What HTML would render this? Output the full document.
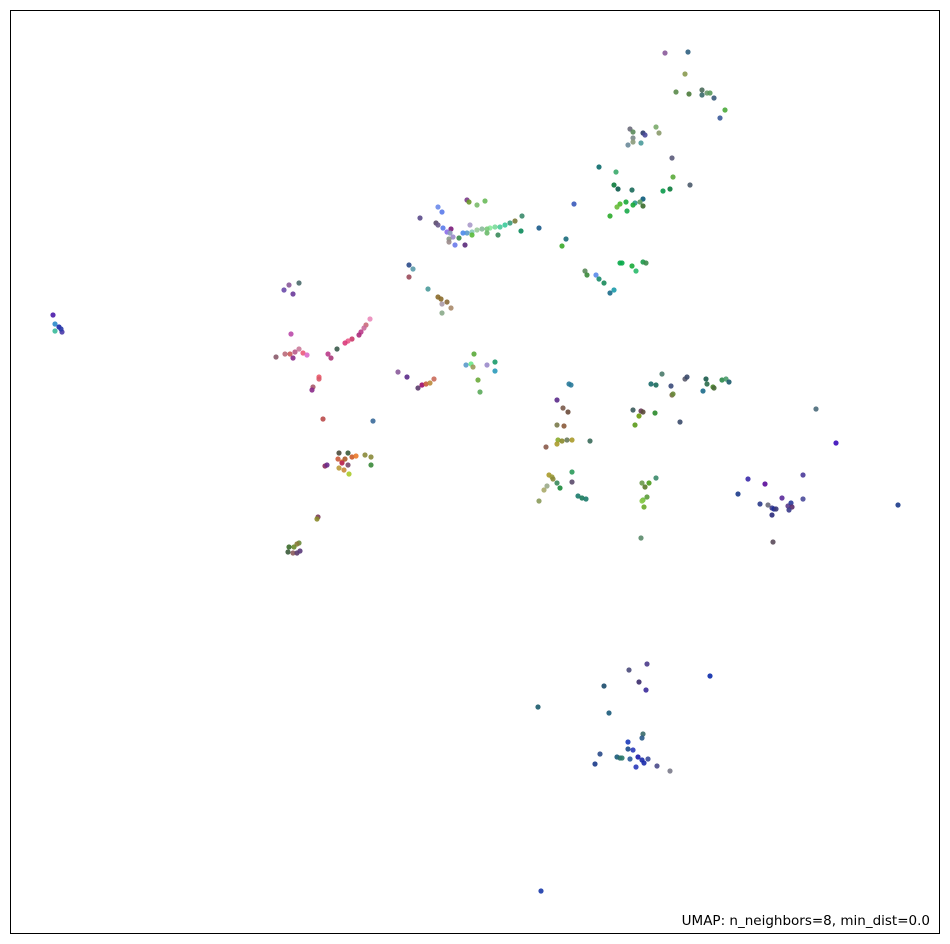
<!DOCTYPE html>
<html><head><meta charset="utf-8"><style>
html,body{margin:0;padding:0;background:#fff;}
svg{display:block;}
</style></head><body>
<svg id="chart" width="950" height="944" xmlns="http://www.w3.org/2000/svg">
<rect x="10.5" y="10.5" width="929" height="923" fill="#fff" stroke="#000" stroke-width="1"/>
<g id="points"></g>
<text x="930" y="925" text-anchor="end" font-family="DejaVu Sans, Liberation Sans, sans-serif" font-size="13.5" fill="#000">UMAP: n_neighbors=8, min_dist=0.0</text>
</svg>
<script>
const umapX=[665,688,685,676,689,702,707,710,702,714,725,720,630,633,643,645,656,659,633,633,628,641,672,599,616,673,690,614,618,632,663,670,643,640,643,635,633,626,620,617,627,610,574,539,566,562,522,521,515,510,505,500,495,490,487,482,477,472,467,463,487,498,472,470,467,469,477,485,438,442,420,436,438,443,447,451,450,453,449,459,455,465,449,620,622,632,636,643,646,585,587,596,599,604,610,614,409,413,409,428,438,441,447,442,451,442,
289,299,284,293,291,370,366,364,361,359,352,348,345,337,328,331,276,285,290,295,299,303,307,293,319,319,313,312,323,373,474,466,471,473,487,495,495,478,480,398,407,418,422,426,430,434,339,348,338,342,345,352,356,365,371,371,342,348,339,344,349,325,327,318,317,299,297,294,289,288,293,297,300,
569,571,557,563,568,557,564,558,562,567,572,557,590,546,549,552,553,572,572,557,560,547,544,539,578,582,586,662,651,656,671,672,673,685,687,706,707,713,714,703,722,726,729,633,641,643,655,639,635,680,656,642,645,649,647,643,642,644,641,816,836,748,765,803,738,760,768,772,774,776,782,788,791,792,789,803,772,773,898,
647,629,639,646,710,604,538,609,643,642,628,628,633,600,595,617,620,622,630,638,642,644,648,636,657,670,541,
53,55,59,55,62,61];
const umapY=[53,52,74,92,94,90,93,93,95,98,110,118,129,132,133,135,127,133,138,142,145,143,158,167,172,177,185,185,189,190,191,189,199,202,206,203,205,202,204,207,211,216,204,228,239,246,216,231,221,223,225,227,227,228,229,229,230,232,233,233,233,235,235,225,200,202,205,201,207,212,218,223,225,228,232,229,233,237,239,238,245,245,242,263,263,266,271,262,263,271,275,275,279,283,293,290,265,269,277,289,297,299,302,304,308,313,
285,283,290,294,334,319,325,328,332,335,339,341,343,349,354,358,357,354,354,352,349,353,355,358,377,379,387,390,419,421,354,365,364,367,365,362,371,380,392,372,377,388,385,384,383,379,453,453,459,462,459,457,456,455,457,465,463,465,468,470,474,466,465,517,519,543,544,547,547,552,553,553,551,
384,385,400,408,412,425,426,440,441,440,440,444,441,447,475,477,479,472,482,483,488,486,490,501,496,498,499,374,384,385,386,395,394,379,377,379,384,387,388,391,380,379,382,410,411,412,413,416,425,422,478,483,487,483,497,500,501,507,538,409,443,479,484,475,494,504,505,508,509,509,498,506,503,507,510,499,515,542,505,
664,670,682,690,676,686,707,713,734,738,742,749,750,754,764,757,758,758,759,757,760,763,759,767,766,771,891,
315,324,327,331,332,329];
const pointColors=["#8a5a9a","#2f5f80","#8a9a50","#5a8a4a","#4a7a3a","#4a6a5a","#6a9a6a","#5a9a5a","#3a6a6a","#3a5a7a","#4aaa3a","#3a5a9a","#6a6a7a","#5a8a5a","#2a3a6a","#4a4a9a","#7aaa6a","#8a9a6a","#7a8a8a","#8a9a7a","#6a8a9a","#4a9a9a","#5a5a7a","#0a6a6a","#3aaa6a","#5aaa3a","#4a5a6a","#0a7a3a","#0a5a4a","#1a6a5a","#0a9a4a","#0a7a3a","#0a5a7a","#5a9a5a","#3a6a2a","#2a9a8a","#1aaa3a","#1aaa3a","#4aba2a","#6aba3a","#1aaa4a","#2aaa2a","#3a5aba","#1a5a8a","#1a6a7a","#3aaa2a","#3a8a6a","#0a8a5a","#7a7a3a","#3a9a7a","#3aca9a","#4aca9a","#7ada9a","#8aea9a","#7aca7a","#8aba9a","#9aca9a","#8acaba","#5a9aca","#4a8aea","#6aba6a","#3a8a5a","#5aba3a","#aa9aca","#7a3a8a","#6a9a2a","#7aba6a","#6aba5a","#6a8aea","#5a7aea","#5a4a8a","#5a4a6a","#6a5a8a","#5a7aea","#8a6aea","#7a1a7a","#8a9aba","#9a8aca","#8a9a8a","#3a8a4a","#6a7aea","#5a2a7a","#9a8a8a","#0aaa4a","#0aaa4a","#1aaa3a","#2aba6a","#1a9a4a","#3a8a4a","#5a8a5a","#3a8a3a","#5a8aea","#1a8a6a","#1a8a5a","#1a6a8a","#1a9aaa","#2a4a8a","#5a9aaa","#9a4a5a","#4a9a9a","#8a6a2a","#8a6a2a","#8a6a3a","#aa9aaa","#aa8a6a","#8aaa8a",
"#8a5a9a","#4a6a6a","#6a4aaa","#6a3a9a","#ba4aaa","#ea8aba","#ca6a7a","#ca6a9a","#ba3a8a","#aa2a7a","#ca3a6a","#ea5a8a","#da3a7a","#3a5a4a","#ba3a8a","#aa3a7a","#8a5a6a","#ba6a7a","#ca5a5a","#ba5a8a","#ca7a9a","#ea5a7a","#da6aca","#8a2a8a","#ea5a6a","#da5a6a","#aa5a6a","#8a2a8a","#ba4a4a","#3a6a9a","#5aaa3a","#5a9aca","#6aea8a","#9a9a5a","#9a8aca","#1a9a6a","#2a9aba","#6aaa3a","#5aaa5a","#8a5a9a","#5a2a8a","#5a3a6a","#9a0a6a","#ca5a3a","#ba8a3a","#ca6a5a","#4a4a3a","#3a5a3a","#ca5a3a","#da6a2a","#aa5a2a","#ca5a2a","#ea7a2a","#8a8a3a","#8a8a3a","#3a8a3a","#ba2a5a","#7a4a6a","#ba9a3a","#ca8a3a","#aaca2a","#8a2a5a","#6a2a8a","#7a3a5a","#8a8a2a","#6a8a3a","#8a7a3a","#6a8a2a","#3a6a2a","#3a5a3a","#8a5a5a","#5a3a6a","#5a3a7a",
"#2a7a9a","#2a7a9a","#5a2a8a","#7a5a4a","#6a4a3a","#7a7a4a","#8a5a3a","#8aaa2a","#8a8a2a","#6a7a5a","#aa9a2a","#aa9a2a","#3a6a5a","#8a5a4a","#aa9a2a","#9a9a3a","#8a8a3a","#2a9a5a","#5a4a6a","#3a8a5a","#1a8a3a","#9aaa8a","#aaaa6a","#8a9a5a","#1a7a6a","#1a7a5a","#1a7a6a","#4a7a6a","#1a6a6a","#1a6a5a","#3a4a7a","#7a6a4a","#6a8a3a","#5a5a6a","#3a4a6a","#1a5a4a","#2a6a4a","#4a8a2a","#4a6a3a","#1a6a8a","#2a8a4a","#4a9a6a","#1a5a6a","#3a5a5a","#6a3a5a","#5a4a3a","#2a8a2a","#6a9a0a","#5a9a1a","#3a4a6a","#3a8a6a","#6a9a4a","#5a7a2a","#4a9a1a","#5a9a3a","#6aba3a","#8aca4a","#6aaa2a","#5a8a6a","#4a6a7a","#3a0aba","#3a2aaa","#5a0a9a","#4a3a9a","#1a3a8a","#2a3a8a","#6a6a7a","#3a3a8a","#1a2a9a","#3a3a7a","#5a2a9a","#5a3a8a","#2a3a9a","#5a2a6a","#3a3a8a","#4a4a9a","#2a2a7a","#5a4a5a","#1a3a8a",
"#4a3a8a","#4a4a7a","#3a2a6a","#3a2a9a","#0a2aaa","#1a4a6a","#1a5a6a","#1a5a7a","#3a6a6a","#2a5a8a","#1a3aba","#1a4a8a","#2a3aba","#2a4a8a","#1a3a8a","#1a5a7a","#2a6a6a","#2a7a6a","#2a5a9a","#1a1aaa","#1a2aaa","#1a2aaa","#3a4a9a","#2a3aba","#4a4a8a","#7a7a8a","#1a3aaa",
"#4a1aaa","#2a8aca","#1a2aaa","#3aba9a","#4a3aaa","#2a3aaa"];
const xDomain=[10,940], yDomain=[10,934];
const xRange=[10,940], yRange=[10,934];
function xScale(v){return xRange[0]+(v-xDomain[0])/(xDomain[1]-xDomain[0])*(xRange[1]-xRange[0]);}
function yScale(v){return yRange[0]+(v-yDomain[0])/(yDomain[1]-yDomain[0])*(yRange[1]-yRange[0]);}
const g=document.getElementById('points');
const NS='http://www.w3.org/2000/svg';
for(let i=0;i<umapX.length;i++){
  const c=document.createElementNS(NS,'circle');
  c.setAttribute('cx',xScale(umapX[i]));
  c.setAttribute('cy',yScale(umapY[i]));
  c.setAttribute('r',2.6);
  c.setAttribute('fill',pointColors[i%pointColors.length]);
  c.setAttribute('fill-opacity',0.9);
  
  
  g.appendChild(c);
}
</script>
</body></html>
